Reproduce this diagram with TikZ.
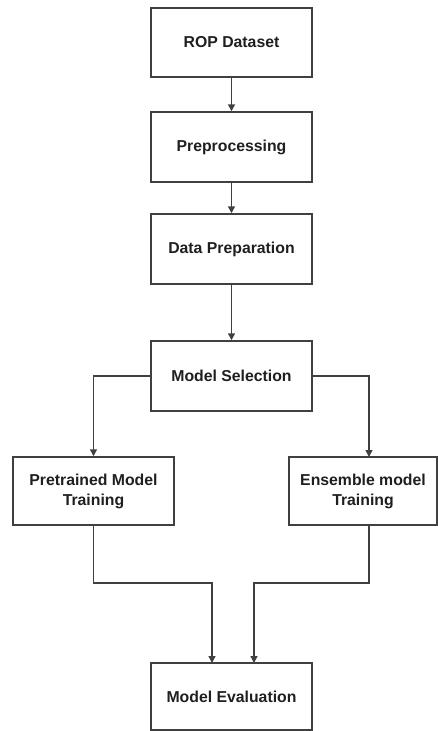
\documentclass[tikz,border=0pt]{standalone}
\usepackage{fontspec}
\setmainfont{Liberation Sans}
\usetikzlibrary{arrows.meta}
\definecolor{linec}{HTML}{404040}
\begin{document}
\begin{tikzpicture}[x=1pt,y=-1pt,
  stepbox/.style={draw=linec,line width=1.5pt,minimum width=#1,align=center,inner sep=0pt,font=\bfseries\fontsize{15.8}{20}\selectfont,text=black!88},
  conn/.style={draw=linec,line width=1.5pt,-{Triangle[length=7pt,width=7pt]}}]
\useasboundingbox (0,0) rectangle (438,731);
\node[stepbox=161pt,minimum height=69pt] (rop) at (231.5,42.5) {ROP Dataset};
\node[stepbox=161pt,minimum height=70pt] (pre) at (231.5,147) {Preprocessing};
\node[stepbox=161pt,minimum height=70pt] (dp) at (231.5,249) {Data Preparation};
\node[stepbox=161pt,minimum height=70pt] (ms) at (231.5,376) {Model Selection};
\node[stepbox=161pt,minimum height=68pt] (pt) at (93.5,491) {Pretrained Model\\Training};
\node[stepbox=148pt,minimum height=68pt] (en) at (363,491) {Ensemble model\\Training};
\node[stepbox=161pt,minimum height=67pt] (ev) at (231.5,696.5) {Model Evaluation};
\coordinate (evl) at (212,663);
\coordinate (evr) at (254,663);
\draw[conn] (rop) -- (pre);
\draw[conn] (pre) -- (dp);
\draw[conn] (dp) -- (ms);
\draw[conn] (ms.west) -| (pt.north);
\draw[conn] (ms.east) -| (369,457);
\draw[conn] (pt.south) |- (212,583) -- (evl);
\draw[conn] (369,525) |- (254,583) -- (evr);
\end{tikzpicture}
\end{document}
